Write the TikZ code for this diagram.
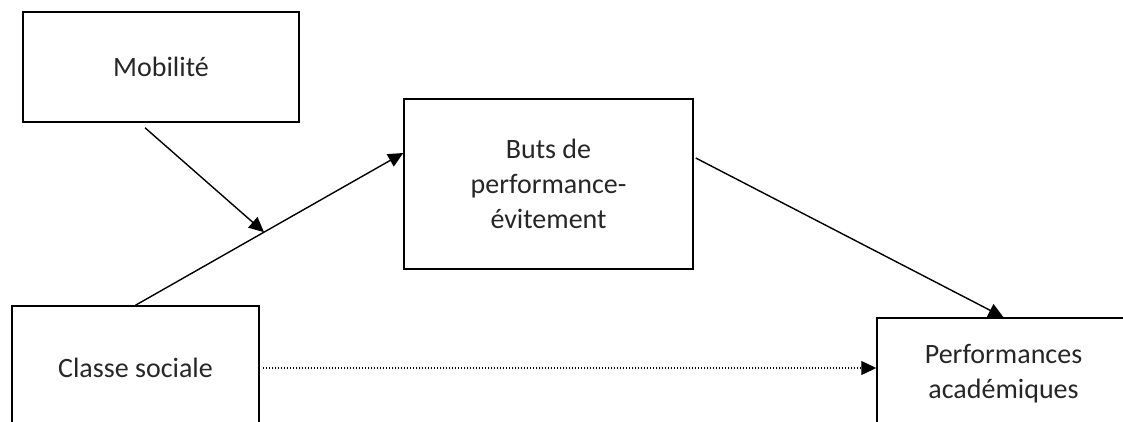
\documentclass[tikz,border=0pt]{standalone}
\usepackage{fontspec}
\setmainfont{Carlito}
\usetikzlibrary{positioning}
\usetikzlibrary{calc}
\usetikzlibrary{arrows.meta}

\begin{document}
\begin{tikzpicture}[x=1pt, y=-1pt, varbox/.style={draw, line width=1.5pt, align=center, inner sep=0pt, text=black!85, font=\fontsize{28}{35}\selectfont}, tip/.style={-{Triangle[length=15pt,width=14pt]}, line width=1.4pt}]
            \useasboundingbox (0,0) rectangle (1123,422);
            \clip (0,0) rectangle (1123,422);

            \node[varbox, minimum width=276pt, minimum height=110pt] (mob) at (161,67) {Mobilité};
            \node[varbox, minimum width=289pt, minimum height=170pt] (buts) at (548.5,184) {Buts de\\performance-\\évitement};
            \node[varbox, minimum width=247pt, minimum height=124pt] (classe) at (135.5,368) {Classe sociale};
            \node[varbox, minimum width=253pt, minimum height=112pt] (perf) at (1003.5,374) {Performances\\académiques};

            \coordinate (med) at ($(classe.north)!0.48!([yshift=31pt]buts.west)$);

            \draw[tip] (classe.north) -- ([yshift=31pt]buts.west);
            \draw[tip] ([xshift=-16pt,yshift=-5pt]mob.south) -- (med);
            \draw[tip] ([xshift=2pt,yshift=26pt]buts.east) -- (perf.north);
            \draw[tip, dash pattern=on 1.5pt off 1.5pt] ([xshift=3pt]classe.east) -- (perf.west |- classe.east);
        \end{tikzpicture}
\end{document}
